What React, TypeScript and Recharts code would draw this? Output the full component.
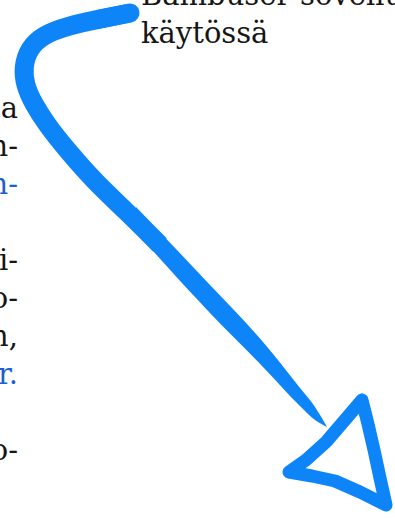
import { ComposedChart, Line, Area, XAxis, YAxis } from "recharts";

const W = 395;
const H = 518;

// Brush-stroke arrow in pixels (x to the right, y downwards).
const SHAFT_X = [130, 100, 67, 43, 29, 23, 25, 33, 47, 67, 95, 124, 160];
const SHAFT_Y = [13, 19, 26, 35, 48, 67, 85, 103, 125, 150, 182, 209, 245];

// tapering tail: upper and lower edge of the stroke at a few x positions
const TAIL_X = [136, 210, 263, 300, 315, 327];
const TAIL_TOP = [207, 285, 342, 388, 407, 427];
const TAIL_BOTTOM = [232, 313, 367, 406, 420, 427];

// hand-drawn open triangle at the end
const HEAD_X = [362, 344, 326, 306, 289, 312, 335, 360, 386, 380, 374, 368, 362];
const HEAD_Y = [400, 421, 442, 460, 472, 476, 481, 492, 505, 478, 450, 424, 400];

// text around the arrow (page text cut off by the crop)
const TOP_LINES = ["Bambuser-sovellus", "käytössä"];
const SIDE_LINES = ["a", "n-", "n-", "", "i-", "o-", "n,", "r.", "", "o-"];
const SIDE_LINK = [false, false, true, false, false, false, false, true, false, false];

const BLUE = "#0d84f7";
const INK = "#161616";
const LINK = "#1c5fd4";

const toPoints = (xs: number[], ys: number[]) => xs.map((x, i) => ({ x, y: ys[i] }));
const tailData = TAIL_X.map((x, i) => ({ x, band: [TAIL_TOP[i], TAIL_BOTTOM[i]] }));

export default function App() {
  return (
    <div
      style={{
        position: "absolute",
        left: 0,
        top: 0,
        width: W,
        height: H,
        overflow: "hidden",
        background: "#fff",
      }}
    >
      <ComposedChart width={W} height={H} margin={{ top: 0, right: 0, bottom: 0, left: 0 }}>
        <XAxis dataKey="x" type="number" domain={[0, W]} hide allowDataOverflow />
        <YAxis type="number" domain={[0, H]} reversed hide allowDataOverflow />
        <Area
          data={tailData}
          dataKey="band"
          type="monotone"
          stroke="none"
          fill={BLUE}
          fillOpacity={1}
          dot={false}
          activeDot={false}
          isAnimationActive={false}
        />
        <Line
          data={toPoints(SHAFT_X, SHAFT_Y)}
          dataKey="y"
          type="basis"
          stroke={BLUE}
          strokeWidth={19}
          strokeLinecap="butt"
          dot={false}
          activeDot={false}
          isAnimationActive={false}
        />
        {/* rounded start of the brush stroke */}
        <Line
          data={toPoints(SHAFT_X.slice(0, 2), SHAFT_Y.slice(0, 2))}
          dataKey="y"
          type="linear"
          stroke={BLUE}
          strokeWidth={19}
          strokeLinecap="round"
          dot={false}
          activeDot={false}
          isAnimationActive={false}
        />
        <Line
          data={toPoints(HEAD_X, HEAD_Y)}
          dataKey="y"
          type="linear"
          stroke={BLUE}
          strokeWidth={13}
          strokeLinecap="round"
          strokeLinejoin="round"
          dot={false}
          activeDot={false}
          isAnimationActive={false}
        />
      </ComposedChart>
      <svg
        width={W}
        height={H}
        style={{ position: "absolute", left: 0, top: 0, pointerEvents: "none" }}
        fontFamily="'DejaVu Serif', serif"
        fontSize={29}
      >
        {TOP_LINES.map((t, i) => (
          <text key={`top-${i}`} x={141} y={5 + i * 38} fill={INK}>
            {t}
          </text>
        ))}
        {SIDE_LINES.map((t, i) => (
          <text
            key={`side-${i}`}
            x={18}
            y={118 + i * 38}
            textAnchor="end"
            fill={SIDE_LINK[i] ? LINK : INK}
          >
            {t}
          </text>
        ))}
      </svg>
    </div>
  );
}
